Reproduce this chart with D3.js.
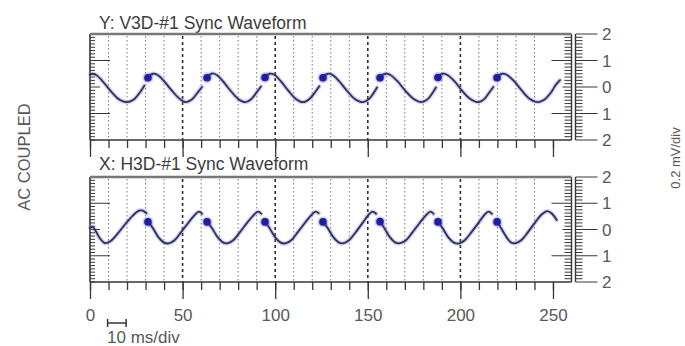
<!DOCTYPE html>
<html>
<head>
<meta charset="utf-8">
<script src="https://cdn.jsdelivr.net/npm/d3@7"></script>
<style>
  body { margin: 0; background: #fff; }
  svg { display: block; }
  text { font-family: "Liberation Sans", Arial, sans-serif; }
</style>
</head>
<body>
<svg id="chart" width="685" height="346"></svg>
<script>
// ---- data ----
const xTickValues = [0, 50, 100, 150, 200, 250];
const yTickValues = [2, 1, 0, -1, -2];
const yTickLabels = ["2", "1", "0", "1", "2"];
const panelTitles = ["Y: V3D-#1 Sync Waveform", "X: H3D-#1 Sync Waveform"];
const sideLabel = "AC COUPLED";
const gainLabel = "0.2 mV/div";
const scaleBarMs = 10;
const scaleBarLabel = "10 ms/div";

// sync markers (time ms, amplitude)
const yDots = [[31.3, 0.35], [63.2, 0.35], [94.5, 0.36], [125.8, 0.35], [156.6, 0.35], [187.9, 0.36], [219.8, 0.35]];
const xDots = [[31.3, 0.29], [63.2, 0.29], [94.5, 0.29], [125.8, 0.29], [156.6, 0.3], [187.9, 0.29], [219.8, 0.29]];

// vertical sync waveform, one sweep per array
const ySegments = [
  [[0, 0.46], [1.5, 0.5], [4, 0.42], [8, 0.12], [12, -0.22], [16, -0.48], [20.3, -0.57], [24, -0.45], [27, -0.2], [29.3, 0.05]],
  [[31.6, 0.4], [34, 0.5], [36.5, 0.45], [40, 0.22], [44, -0.12], [48, -0.42], [51.5, -0.57], [55, -0.47], [58, -0.22], [60.5, 0.0]],
  [[63.5, 0.4], [66, 0.51], [68.5, 0.45], [72, 0.2], [76, -0.15], [80, -0.45], [83.8, -0.57], [87, -0.46], [90, -0.2], [92.3, 0.02]],
  [[94.8, 0.4], [97, 0.5], [99.5, 0.46], [103, 0.22], [107, -0.13], [111, -0.44], [115, -0.57], [118.5, -0.45], [121.5, -0.2], [123.8, 0.03]],
  [[126.1, 0.4], [128.5, 0.5], [131, 0.45], [134.5, 0.22], [138.5, -0.12], [143, -0.45], [147.4, -0.57], [150.5, -0.46], [153, -0.24], [155, -0.02]],
  [[156.9, 0.4], [159.5, 0.5], [162, 0.46], [166, 0.22], [170, -0.12], [175, -0.46], [179.3, -0.57], [182.5, -0.45], [185, -0.22], [186.8, -0.02]],
  [[188.2, 0.4], [190.5, 0.5], [193, 0.45], [197, 0.2], [201, -0.15], [205.5, -0.46], [210, -0.57], [213, -0.45], [215.5, -0.22], [217.8, 0.0]],
  [[220.1, 0.4], [222.5, 0.5], [225, 0.46], [229, 0.22], [233, -0.12], [237.5, -0.45], [242, -0.57], [245.5, -0.47], [249, -0.2], [251.5, 0.08], [253.8, 0.26]]
];

// horizontal sync waveform, one sweep per array
const xSegments = [
  [[0, 0.06], [1.5, 0.1], [3, -0.05], [5.5, -0.35], [8, -0.52], [11, -0.45], [15, -0.15], [19, 0.2], [23, 0.52], [26.5, 0.72], [28.5, 0.72], [30.5, 0.62]],
  [[31.6, 0.28], [34, 0.05], [37, -0.3], [40, -0.5], [42.5, -0.53], [45.5, -0.42], [49, -0.12], [53, 0.25], [56.5, 0.55], [58.8, 0.68], [60.5, 0.6]],
  [[63.5, 0.28], [66, 0.04], [69, -0.3], [72, -0.5], [74.5, -0.52], [77.5, -0.4], [81, -0.1], [85, 0.27], [88.5, 0.56], [90.8, 0.68], [92.5, 0.6]],
  [[94.8, 0.28], [97, 0.05], [100, -0.3], [103, -0.5], [105.5, -0.53], [108.5, -0.42], [112, -0.12], [116, 0.25], [119.5, 0.55], [121.8, 0.68], [123.5, 0.62]],
  [[126.1, 0.28], [128.5, 0.04], [131.5, -0.3], [134.5, -0.5], [137, -0.52], [140, -0.4], [143.5, -0.1], [147.5, 0.28], [150.5, 0.57], [152.5, 0.68], [154.5, 0.6]],
  [[156.9, 0.28], [159, 0.05], [162, -0.3], [165, -0.5], [167.5, -0.52], [170.5, -0.42], [174, -0.12], [178, 0.25], [181.5, 0.55], [183.8, 0.68], [185.5, 0.6]],
  [[188.2, 0.28], [190.5, 0.04], [193.5, -0.3], [196.5, -0.5], [199.5, -0.53], [202.5, -0.4], [206, -0.1], [210, 0.27], [213, 0.56], [215.2, 0.68], [217, 0.6]],
  [[220.1, 0.28], [222, 0.05], [225, -0.3], [227.5, -0.5], [229.8, -0.52], [233, -0.4], [236.5, -0.1], [240.5, 0.28], [244, 0.58], [247, 0.7], [249.5, 0.6], [252, 0.36]]
];

// ---- layout ----
const svg = d3.select("#chart");
const left = 90, right = 571.5;
const x = d3.scaleLinear().domain([0, 260]).range([left, right]);

const panels = [
  { title: panelTitles[0], top: 34, bottom: 140, titleY: 29, segments: ySegments, dots: yDots, labels: false },
  { title: panelTitles[1], top: 177, bottom: 282, titleY: 170, segments: xSegments, dots: xDots, labels: true }
];

const ink = "#363636";
const labelColor = "#585858";
const minorX = d3.range(0, 260, 10);

panels.forEach(p => {
  const y = d3.scaleLinear().domain([-2, 2]).range([p.bottom, p.top]);
  const g = svg.append("g");

  // title
  g.append("text")
    .attr("x", 99).attr("y", p.titleY)
    .attr("font-size", 17.5).attr("fill", "#3c3c3c")
    .text(p.title);

  // fine dotted grid every 10 ms
  g.append("g").selectAll("line")
    .data(minorX.filter(v => v > 0 && v % 50 !== 0))
    .join("line")
    .attr("x1", d => x(d)).attr("x2", d => x(d))
    .attr("y1", p.top + 2).attr("y2", p.bottom)
    .attr("stroke", "#7a7a7a").attr("stroke-width", 1)
    .attr("stroke-dasharray", "1.5,2.5");

  // heavier dashed grid every 50 ms
  g.append("g").selectAll("line")
    .data(xTickValues.filter(v => v > 0 && v < 250))
    .join("line")
    .attr("x1", d => x(d)).attr("x2", d => x(d))
    .attr("y1", p.top + 2).attr("y2", p.bottom)
    .attr("stroke", "#2e2e2e").attr("stroke-width", 1.6)
    .attr("stroke-dasharray", "3,3");

  // left edge with inner ticks
  const yMinor = d3.range(-2, 2.0001, 0.125);
  const leftLen = v => Math.abs(Math.abs(v) - 1) < 1e-6 ? 20 : (Math.abs(v) < 1e-6 ? 10 : 5);
  g.append("g").selectAll("line")
    .data(yMinor)
    .join("line")
    .attr("x1", left).attr("x2", d => left + leftLen(d))
    .attr("y1", d => y(d)).attr("y2", d => y(d))
    .attr("stroke", ink).attr("stroke-width", 1);
  g.append("line")
    .attr("x1", left).attr("x2", left)
    .attr("y1", p.top).attr("y2", p.bottom)
    .attr("stroke", ink).attr("stroke-width", 1.6);

  // right scale: double rail with ticks on both sides
  const rail1 = right, rail2 = right + 4;
  const rLeftLen = v => Math.abs(Math.abs(v) - 1) < 1e-6 ? 20 : (Math.abs(v) < 1e-6 ? 9 : (Math.abs(Math.abs(v) - 2) < 1e-6 ? 0 : 7));
  const rRightLen = v => (Math.abs(v % 1) < 1e-6) ? 22 : 7;
  g.append("g").selectAll("line")
    .data(yMinor)
    .join("line")
    .attr("x1", d => rail1 - rLeftLen(d)).attr("x2", rail1)
    .attr("y1", d => y(d)).attr("y2", d => y(d))
    .attr("stroke", ink).attr("stroke-width", 1);
  g.append("g").selectAll("line")
    .data(yMinor)
    .join("line")
    .attr("x1", rail2).attr("x2", d => rail2 + rRightLen(d))
    .attr("y1", d => y(d)).attr("y2", d => y(d))
    .attr("stroke", ink).attr("stroke-width", 1);
  [rail1, rail2].forEach(rx => g.append("line")
    .attr("x1", rx).attr("x2", rx)
    .attr("y1", p.top).attr("y2", p.bottom)
    .attr("stroke", ink).attr("stroke-width", 1.4));

  // right scale labels
  g.append("g").selectAll("text")
    .data(yTickValues)
    .join("text")
    .attr("x", 602).attr("y", d => y(d)).attr("dy", "0.36em")
    .attr("font-size", 17).attr("fill", labelColor)
    .text((d, i) => yTickLabels[i]);

  // top frame edge
  g.append("line")
    .attr("x1", left).attr("x2", rail1)
    .attr("y1", p.top).attr("y2", p.top)
    .attr("stroke", "#777").attr("stroke-width", 2.6);

  // time axis
  const minorAxis = d3.axisBottom(x).tickValues(minorX).tickSize(8).tickFormat("");
  const majorAxis = d3.axisBottom(x).tickValues(xTickValues).tickSize(17).tickPadding(10)
    .tickFormat(p.labels ? d3.format("d") : "");
  const ax1 = g.append("g").attr("transform", `translate(0,${p.bottom})`).call(minorAxis);
  const ax2 = g.append("g").attr("transform", `translate(0,${p.bottom})`).call(majorAxis);
  [ax1, ax2].forEach(a => {
    a.select(".domain").remove();
    a.selectAll("line").attr("stroke", ink).attr("stroke-width", 1.3);
  });
  ax2.selectAll("text").attr("font-size", 17).attr("fill", labelColor)
    .attr("font-family", "Liberation Sans, Arial, sans-serif");
  g.append("line")
    .attr("x1", left).attr("x2", rail1)
    .attr("y1", p.bottom).attr("y2", p.bottom)
    .attr("stroke", ink).attr("stroke-width", 1.6);

  // waveform
  const line = d3.line().x(d => x(d[0])).y(d => y(d[1])).curve(d3.curveCatmullRom.alpha(0.5));
  g.append("g").selectAll("path")
    .data(p.segments)
    .join("path")
    .attr("d", line)
    .attr("fill", "none").attr("stroke", "#7a7ae0").attr("stroke-opacity", 0.35)
    .attr("stroke-width", 4.5).attr("stroke-linecap", "round");
  g.append("g").selectAll("path")
    .data(p.segments)
    .join("path")
    .attr("d", line)
    .attr("fill", "none").attr("stroke", "#2f2f58")
    .attr("stroke-width", 1.8).attr("stroke-linecap", "round");

  // sync markers
  g.append("g").selectAll("circle")
    .data(p.dots)
    .join("circle")
    .attr("cx", d => x(d[0])).attr("cy", d => y(d[1]))
    .attr("r", 5.5).attr("fill", "#5b5be0").attr("opacity", 0.3);
  g.append("g").selectAll("circle")
    .data(p.dots)
    .join("circle")
    .attr("cx", d => x(d[0])).attr("cy", d => y(d[1]))
    .attr("r", 3.8).attr("fill", "#1e1e9e");
});

// rotated side labels
svg.append("text")
  .attr("transform", "translate(30,157) rotate(-90)")
  .attr("text-anchor", "middle")
  .attr("font-size", 16.5).attr("fill", labelColor)
  .text(sideLabel);

svg.append("text")
  .attr("transform", "translate(680,158) rotate(-90)")
  .attr("text-anchor", "middle")
  .attr("font-size", 13).attr("fill", labelColor)
  .text(gainLabel);

// time scale bar
const barY = 323, barX0 = x(9.5), barX1 = x(9.5 + scaleBarMs);
const bar = svg.append("g").attr("stroke", ink).attr("stroke-width", 1.5);
bar.append("line").attr("x1", barX0).attr("x2", barX1).attr("y1", barY).attr("y2", barY);
bar.append("line").attr("x1", barX0).attr("x2", barX0).attr("y1", barY - 4).attr("y2", barY + 4);
bar.append("line").attr("x1", barX1).attr("x2", barX1).attr("y1", barY - 4).attr("y2", barY + 4);
svg.append("text")
  .attr("x", 107).attr("y", 343)
  .attr("font-size", 17).attr("fill", labelColor)
  .text(scaleBarLabel);
</script>
</body>
</html>
